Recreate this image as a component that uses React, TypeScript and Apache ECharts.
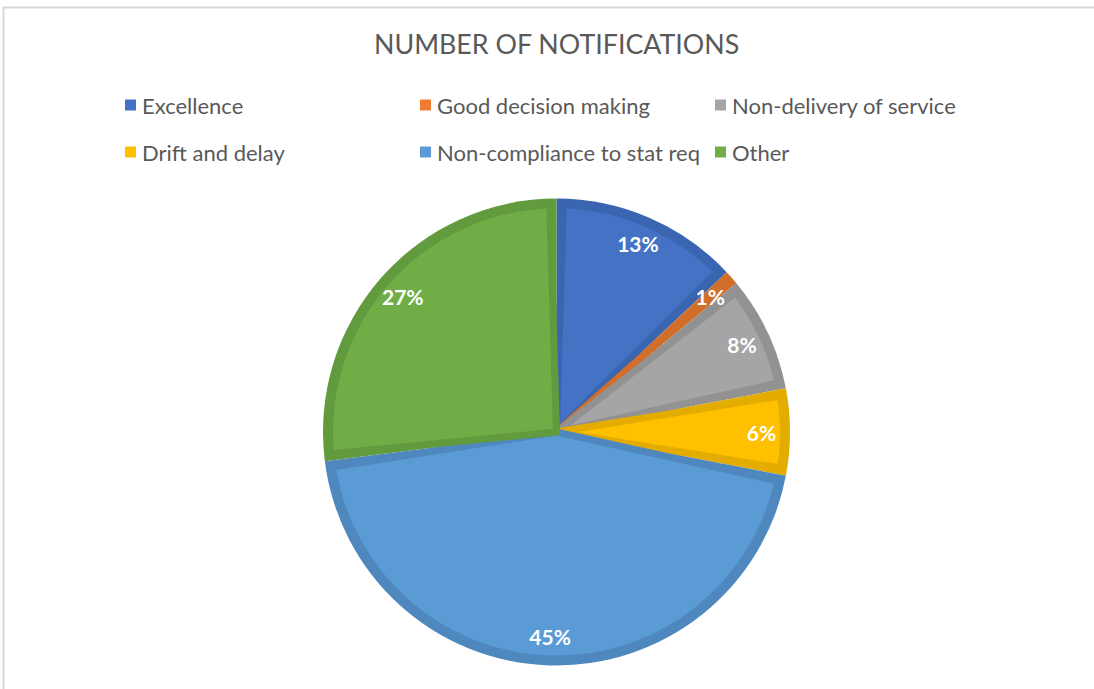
import React, { useEffect, useRef } from "react";
import * as echarts from "echarts";

const titleText = "NUMBER OF NOTIFICATIONS";
const categories = [
  "Excellence",
  "Good decision making",
  "Non-delivery of service",
  "Drift and delay",
  "Non-compliance to stat req",
  "Other",
];
const values = [13, 1, 8, 6, 45, 27];
const fillColors = ["#4472C4", "#ED7D31", "#A5A5A5", "#FFC000", "#5B9BD5", "#70AD47"];
const edgeColors = ["#3A65B0", "#D06E2A", "#929292", "#E5AC00", "#4E88BE", "#629A3E"];
const legendColumns = [
  ["Excellence", "Drift and delay"],
  ["Good decision making", "Non-compliance to stat req"],
  ["Non-delivery of service", "Other"],
];

const FONT = "Lato";

export default function App() {
  const ref = useRef<HTMLDivElement>(null);
  useEffect(() => {
    document.body.style.margin = "0";
    const chart = echarts.init(ref.current!, undefined, { renderer: "svg" });
    const center = [556.5, 432];
    const legendLefts = [125, 420, 715];
    chart.setOption({
      animation: false,
      backgroundColor: "#ffffff",
      title: {
        text: titleText,
        left: 374,
        top: 30,
        padding: 0,
        textStyle: { fontFamily: FONT, fontSize: 26.8, fontWeight: "normal", color: "#595959" },
      },
      legend: legendColumns.map((col, k) => ({
        orient: "vertical",
        left: legendLefts[k],
        top: 94,
        padding: 0,
        itemGap: 25,
        itemWidth: 11,
        itemHeight: 11,
        icon: "rect",
        selectedMode: false,
        itemStyle: { borderWidth: 0 },
        data: col,
        textStyle: { fontFamily: FONT, fontSize: 22, lineHeight: 22, color: "#595959", padding: [0, 0, 0, 1] },
      })),
      graphic: [
        {
          type: "polyline",
          silent: true,
          shape: { points: [[3.5, 700], [3.5, 7.5], [1100, 7.5]] },
          style: { stroke: "#D9D9D9", lineWidth: 2, fill: "none" },
        },
      ],
      series: [
        {
          name: "fill",
          type: "pie",
          z: 3,
          center,
          radius: 227,
          startAngle: 90,
          clockwise: true,
          padAngle: 3.4,
          silent: true,
          label: { show: false },
          labelLine: { show: false },
          data: categories.map((name, i) => ({
            name,
            value: values[i],
            itemStyle: { color: fillColors[i], borderColor: edgeColors[i], borderWidth: 7, borderJoin: "miter" },
          })),
        },
        {
          name: "edge",
          type: "pie",
          z: 2,
          center,
          radius: 233.5,
          startAngle: 90,
          clockwise: true,
          silent: true,
          label: { show: false },
          labelLine: { show: false },
          data: categories.map((name, i) => ({
            name,
            value: values[i],
            itemStyle: { color: edgeColors[i], borderWidth: 0 },
          })),
        },
        {
          name: "labels",
          type: "pie",
          z: 4,
          center,
          radius: [178, 226],
          startAngle: 90,
          clockwise: true,
          silent: true,
          itemStyle: { color: "rgba(0,0,0,0)", borderWidth: 0 },
          label: {
            show: true,
            position: "inside",
            formatter: "{d}%",
            color: "#ffffff",
            fontFamily: FONT,
            fontWeight: "bold",
            fontSize: 21,
          },
          labelLine: { show: false },
          data: categories.map((name, i) => ({ name, value: values[i], itemStyle: { color: "rgba(0,0,0,0)" } })),
        },
      ],
    });
    return () => chart.dispose();
  }, []);
  return <div ref={ref} style={{ width: 1094, height: 689 }} />;
}
